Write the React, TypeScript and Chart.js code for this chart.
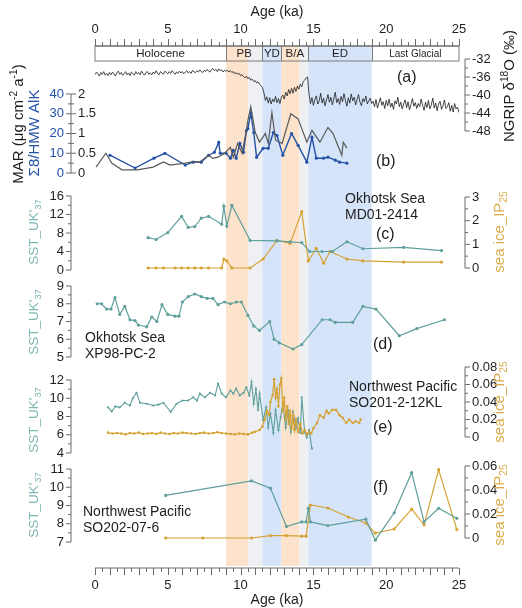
import React, { useEffect, useRef } from 'react';
import { Chart, registerables } from 'chart.js';

Chart.register(...registerables);

// ---------------- data ----------------
const AGE_TICKS = [0, 5, 10, 15, 20, 25];

// (a) NGRIP d18O, sampled every 0.1 ka from 0 ka
const NGRIP_STEP = 0.1;
const NGRIP_D18O = [
  -35.5, -34.9, -35.3, -35.8, -35.0, -35.4, -34.8, -35.6, -35.2, -35.7,
  -35.0, -35.5, -34.9, -35.3, -35.8, -35.1, -34.7, -35.4, -35.0, -35.6,
  -35.3, -34.8, -35.5, -35.1, -35.7, -34.9, -35.2, -35.6, -34.8, -35.3,
  -35.0, -35.5, -34.7, -35.2, -35.6, -35.0, -34.8, -35.4, -35.1, -35.5,
  -34.9, -35.3, -34.6, -35.2, -35.5, -34.8, -35.1, -35.4, -34.7, -35.0,
  -35.3, -34.8, -35.2, -34.6, -35.0, -35.4, -34.9, -35.2, -34.7, -35.1,
  -34.8, -35.3, -34.9, -34.6, -35.1, -34.8, -35.2, -34.5, -34.9, -35.0,
  -34.6, -34.9, -34.4, -34.8, -35.0, -34.5, -34.8, -34.3, -34.7, -34.9,
  -34.4, -34.1, -34.6, -34.3, -34.8, -34.2, -34.6, -34.4, -34.9, -34.5,
  -34.7,
  -34.5, -34.9, -34.6, -35.0, -34.8, -35.3, -35.0, -35.4, -35.2, -35.7,
  -35.5, -35.9, -36.2, -35.8, -36.4, -36.1, -36.7, -36.5, -37.0, -36.8,
  -37.3, -37.1, -37.6, -37.9, -38.3,
  -39.5, -41.2, -40.4, -41.8, -40.6, -42.0, -40.9, -41.5, -40.3, -41.7, -40.8, -41.9, -40.5,
  -40.0, -40.9, -39.4, -40.2, -38.8, -39.7, -38.5, -39.6, -38.3, -39.2, -38.0, -38.7, -37.6, -38.2, -37.0, -36.7, -36.2, -36.0,
  -39.8, -41.9, -40.6, -42.3, -41.0, -40.2, -42.0, -41.3, -39.6, -41.8,
  -40.7, -42.4, -41.1, -39.9, -41.6, -40.5, -42.2, -40.9, -39.4, -41.7,
  -40.8, -42.1, -40.3, -41.5, -39.7, -41.2, -42.5, -40.6, -41.8, -39.8,
  -41.3, -40.5, -42.2, -41.0, -39.9, -41.6, -42.4, -40.8, -41.5, -40.2,
  -42.0, -41.3, -40.7, -41.9,
  -41.4, -42.6, -41.0, -42.9, -41.7, -40.6, -42.3, -41.5, -43.0, -41.2,
  -42.4, -40.9, -42.7, -41.8, -43.2, -41.3, -42.0, -40.5, -42.6, -41.6,
  -43.1, -42.0, -41.1, -42.8, -41.5, -43.3, -42.1, -40.8, -42.5, -41.7,
  -43.0, -41.9, -42.6, -40.9, -42.3, -43.4, -41.6, -42.8, -41.2, -43.1,
  -42.2, -40.7, -42.9, -41.8, -43.5, -42.0, -41.4, -43.2, -42.4, -41.1,
  -43.0, -42.6, -41.7, -43.6, -42.3, -43.8, -41.9, -43.1, -42.7, -43.9,
];
const NGRIP_TICKS = [-32, -36, -40, -44, -48];

// (b) MAR / ratio
const B_BLUE_AGE = [1.03, 2.75, 4.05, 4.8, 6.2, 6.75, 7.3, 7.8, 8.2, 8.5, 8.6, 9.0, 9.3, 9.5, 9.7, 9.95, 10.2, 10.4, 10.5, 10.7, 10.9, 11.1, 11.55, 11.9, 12.25, 12.5, 12.9, 13.5, 13.95, 14.55, 14.9, 15.2, 15.7, 16.0, 16.5, 16.8, 17.3];
const B_BLUE = [9, 2.5, 7.5, 10, 4, 5.5, 5.5, 9, 10.5, 15.5, 10, 10, 7.5, 11.5, 7.5, 15, 10.5, 21.5, 22.5, 30.5, 20.5, 8, 12.5, 12.5, 20.5, 19, 9, 20, 14, 5.5, 18, 7.5, 7.5, 8, 6.5, 5.5, 5];
const B_GRAY_AGE = [0.07, 0.75, 1.15, 1.85, 2.9, 4.0, 4.7, 5.15, 6.2, 6.65, 7.2, 7.8, 8.1, 8.45, 8.9, 9.3, 9.5, 9.8, 10.1, 10.4, 10.5, 10.7, 11.0, 11.3, 11.7, 11.9, 12.15, 12.4, 12.85, 13.45, 13.95, 14.55, 14.9, 15.45, 16.0, 16.35, 16.95, 17.05, 17.3];
const B_GRAY = [0.15, 0.5, 0.25, 0.08, 0.08, 0.15, 0.28, 0.2, 0.25, 0.28, 0.28, 0.45, 0.37, 0.4, 0.5, 0.65, 0.4, 0.75, 0.5, 1.08, 1.33, 1.68, 1.03, 0.78, 1.0, 0.75, 1.53, 0.83, 0.75, 1.5, 1.37, 0.78, 1.08, 0.78, 1.15, 1.0, 0.45, 0.78, 0.63];
const B_BLUE_TICKS = [0, 10, 20, 30, 40];
const B_BLACK_TICKS = [0, 0.5, 1, 1.5, 2];

// (c) MD01-2414
const C_SST_AGE = [3.65, 4.2, 5.0, 5.95, 6.4, 6.85, 7.3, 7.8, 8.7, 8.85, 9.05, 9.4, 10.65, 12.5, 13.4, 14.2, 14.75, 15.6, 16.3, 17.3, 18.4, 21.2, 23.8];
const C_SST = [7.0, 6.6, 8.1, 11.6, 9.2, 9.4, 11.2, 11.6, 9.9, 13.8, 9.5, 14.0, 6.4, 6.3, 6.1, 5.9, 4.0, 4.0, 4.0, 6.1, 4.6, 4.9, 4.2];
const C_ICE_AGE = [3.65, 4.2, 4.7, 5.5, 5.95, 6.4, 6.85, 7.3, 7.8, 8.7, 8.85, 9.05, 9.4, 10.65, 11.55, 12.5, 13.4, 14.2, 14.65, 15.2, 15.7, 16.15, 17.3, 18.4, 21.2, 23.8];
const C_ICE = [0, 0, 0, 0, 0, 0, 0, 0, 0, 0, 0.38, 0.3, 0, 0, 0.38, 1.17, 1.04, 2.38, 0.3, 0.83, 0.2, 0.7, 0.38, 0.3, 0.25, 0.25];
const C_SST_TICKS = [0, 4, 8, 12, 16];
const C_ICE_TICKS = [0, 1, 2, 3];

// (d) XP98-PC-2
const D_AGE = [0.15, 0.45, 0.8, 1.1, 1.37, 1.7, 2.05, 2.4, 2.75, 2.98, 3.55, 3.9, 4.25, 4.6, 5.0, 5.5, 5.77, 6.0, 6.4, 6.85, 7.3, 7.7, 8.1, 8.45, 8.9, 9.3, 9.7, 10.05, 10.5, 10.9, 11.3, 12.0, 12.3, 12.65, 13.6, 14.2, 15.6, 16.15, 16.5, 17.7, 18.4, 19.3, 20.9, 22.1, 24.0];
const D_SST = [8.0, 8.0, 7.7, 7.7, 8.35, 7.4, 7.85, 7.1, 7.05, 6.8, 6.7, 7.25, 7.0, 7.95, 7.4, 7.3, 7.3, 8.1, 8.4, 8.55, 8.4, 8.3, 8.3, 7.95, 8.1, 8.0, 8.1, 8.1, 7.35, 6.75, 6.5, 7.0, 6.0, 5.8, 5.45, 5.7, 7.1, 7.1, 6.95, 6.95, 7.85, 7.7, 6.2, 6.6, 7.1];
const D_SST_TICKS = [5, 6, 7, 8, 9];

// (e) SO201-2-12KL
const E_SST_AGE = [0.9, 1.15, 1.4, 1.7, 2.05, 2.4, 2.6, 2.85, 3.1, 3.55, 4.0, 4.35, 4.7, 5.2, 5.6, 6.0, 6.4, 6.75, 7.0, 7.2, 7.55, 7.9, 8.25, 8.45, 8.7, 9.0, 9.3, 9.5, 9.7, 9.95, 10.2, 10.4, 10.6, 10.75, 10.9, 11.05, 11.2, 11.3, 11.55, 11.75, 11.9, 12.05, 12.25, 12.4, 12.6, 12.75, 12.9, 13.1, 13.25, 13.45, 13.6, 13.8, 13.95, 14.1, 14.2, 14.4, 14.55, 14.7, 14.9];
const E_SST = [9.0, 8.55, 9.1, 9.0, 9.5, 9.2, 10.0, 10.6, 9.5, 9.4, 9.2, 9.3, 9.5, 8.5, 9.4, 9.75, 9.75, 10.1, 9.75, 10.5, 10.1, 10.6, 10.3, 11.6, 10.5, 10.1, 10.85, 10.5, 11.05, 10.3, 10.6, 11.2, 10.3, 11.8, 9.4, 11.0, 8.7, 10.5, 7.6, 9.0, 6.8, 8.3, 6.2, 8.7, 6.5, 7.9, 9.4, 6.8, 8.7, 6.3, 8.5, 6.7, 7.8, 6.2, 10.1, 6.3, 5.7, 6.5, 4.5];
const E_ICE_AGE = [0.9, 1.2, 1.5, 1.8, 2.1, 2.4, 2.7, 3.0, 3.3, 3.6, 3.9, 4.2, 4.5, 4.8, 5.1, 5.4, 5.7, 6.0, 6.3, 6.6, 6.9, 7.2, 7.5, 7.8, 8.1, 8.4, 8.7, 9.0, 9.3, 9.6, 9.9, 10.2, 10.5, 10.8,
  11.0, 11.3, 11.5, 11.65, 11.8, 11.95, 12.05, 12.2, 12.3, 12.4, 12.5, 12.6, 12.7, 12.8, 12.9, 13.0, 13.1, 13.2, 13.3, 13.4, 13.5, 13.6, 13.7, 13.8, 13.95, 14.1, 14.25, 14.4, 14.55, 14.7, 14.85, 15.0, 15.25, 15.45, 15.7, 15.9, 16.05, 16.3, 16.55, 16.8, 17.0, 17.25, 17.45, 17.7, 17.9, 18.15, 18.25];
const E_ICE = [0.005, 0.004, 0.0045, 0.004, 0.003, 0.0045, 0.004, 0.005, 0.0035, 0.004, 0.0045, 0.0035, 0.005, 0.004, 0.0035, 0.0045, 0.004, 0.005, 0.0045, 0.004, 0.0035, 0.0045, 0.005, 0.004, 0.0045, 0.0055, 0.0045, 0.004, 0.0035, 0.003, 0.004, 0.0035, 0.003, 0.005,
  0.006, 0.008, 0.012, 0.02, 0.03, 0.025, 0.04, 0.048, 0.066, 0.045, 0.055, 0.035, 0.06, 0.067, 0.03, 0.045, 0.02, 0.035, 0.015, 0.03, 0.01, 0.025, 0.008, 0.02, 0.006, 0.015, 0.004, 0.008, 0.003, 0.006, 0.004, 0.01, 0.016, 0.025, 0.022, 0.03, 0.027, 0.031, 0.031, 0.025, 0.022, 0.016, 0.02, 0.016, 0.018, 0.016, 0.02];
const E_SST_TICKS = [4, 6, 8, 10, 12];
const E_ICE_TICKS = [0, 0.02, 0.04, 0.06, 0.08];

// (f) SO202-07-6
const F_SST_AGE = [4.85, 10.75, 12.05, 13.15, 14.2, 14.5, 14.65, 14.8, 16.0, 18.6, 19.25, 20.55, 21.75, 22.6, 23.6, 24.85];
const F_SST = [9.55, 10.35, 9.95, 7.85, 8.1, 8.1, 8.85, 8.1, 7.9, 8.25, 7.1, 8.6, 10.8, 8.1, 8.85, 8.3];
const F_ICE_AGE = [4.85, 7.4, 10.75, 12.05, 13.15, 14.2, 14.5, 14.8, 16.0, 17.4, 18.6, 19.25, 20.55, 21.75, 22.6, 23.6, 24.85];
const F_ICE = [0, 0, 0, 0.002, 0.002, 0.0015, 0.0015, 0.0275, 0.025, 0.0175, 0.0125, 0.004, 0.0075, 0.024, 0.011, 0.057, 0.007];
const F_SST_TICKS = [7, 8, 9, 10, 11];
const F_ICE_TICKS = [0, 0.02, 0.04, 0.06];

const EPOCH_LABELS = ['Holocene', 'PB', 'YD', 'B/A', 'ED', 'Last Glacial'];
const EPOCH_BOUNDS = [0, 9.0, 11.5, 12.8, 14.65, 19.0, 25];
const BAND_FROM = [9.0, 10.5, 11.5, 12.8, 14.05, 14.65];
const BAND_TO = [10.5, 11.5, 12.8, 14.05, 14.65, 19.0];
const BAND_KIND = ['o', 'g', 'b', 'o', 'g', 'b'];

// ---------------- styling / layout ----------------
const FONT = '"Liberation Sans", Arial, Helvetica, sans-serif';
const TEAL = '#5f9f9c';
const TEAL_TXT = '#7db6b2';
const GOLD = '#d5a233';
const GOLD_TXT = '#dbad4c';
const BLUE = '#2352a6';
const GRAYLINE = '#595959';
const AXIS = '#6b6b6b';
const TXT = '#1e1e1e';
const BAND_COL: Record<string, string> = { o: '#fde3cc', g: '#eef0f4', b: '#d6e4fa' };

const AREA = { left: 95, right: 459, top: 46, bottom: 566 };

function fit(vTop: number, pTop: number, vBot: number, pBot: number) {
  const b = (pTop - pBot) / (vTop - vBot);
  const a = pTop - b * vTop;
  return { min: (AREA.bottom - a) / b, max: (AREA.top - a) / b };
}

const zip = (xs: number[], ys: number[]) => xs.map((x, i) => ({ x, y: ys[i] }));

type Run = [string, 'n' | 'sub' | 'sup'];

function drawRich(ctx: CanvasRenderingContext2D, runs: Run[], x: number, y: number, size: number, color: string, rot: boolean, align: 'center' | 'left' = 'center') {
  ctx.save();
  ctx.translate(x, y);
  if (rot) ctx.rotate(-Math.PI / 2);
  ctx.fillStyle = color;
  ctx.textBaseline = 'middle';
  ctx.textAlign = 'left';
  const widths = runs.map(([t, k]) => {
    ctx.font = `${k === 'n' ? size : size * 0.68}px ${FONT}`;
    return ctx.measureText(t).width;
  });
  const total = widths.reduce((s, w) => s + w, 0);
  let cur = align === 'center' ? -total / 2 : 0;
  runs.forEach(([t, k], i) => {
    ctx.font = `${k === 'n' ? size : size * 0.68}px ${FONT}`;
    const dy = k === 'sub' ? size * 0.3 : k === 'sup' ? -size * 0.35 : 0;
    ctx.fillText(t, cur, dy);
    cur += widths[i];
  });
  ctx.restore();
}

function vAxis(ctx: CanvasRenderingContext2D, scale: any, ticks: number[], side: 'left' | 'right', x: number, fmt: (v: number) => string, color = TXT) {
  const ps = ticks.map((v) => scale.getPixelForValue(v));
  const top = Math.min(...ps), bot = Math.max(...ps);
  ctx.strokeStyle = AXIS;
  ctx.lineWidth = 1;
  ctx.beginPath();
  ctx.moveTo(x, top);
  ctx.lineTo(x, bot);
  const dir = side === 'left' ? -1 : 1;
  ps.forEach((p) => { ctx.moveTo(x, p); ctx.lineTo(x + dir * 5, p); });
  for (let i = 0; i < ps.length - 1; i++) {
    const m = (ps[i] + ps[i + 1]) / 2;
    ctx.moveTo(x, m); ctx.lineTo(x + dir * 3, m);
  }
  ctx.stroke();
  ctx.fillStyle = color;
  ctx.font = `13px ${FONT}`;
  ctx.textBaseline = 'middle';
  ctx.textAlign = side === 'left' ? 'right' : 'left';
  ticks.forEach((v, i) => ctx.fillText(fmt(v), x + dir * 7, ps[i]));
}

const overlay = {
  id: 'overlay',
  beforeDatasetsDraw(chart: any) {
    const { ctx, chartArea, scales } = chart;
    const xs = scales.x;
    ctx.save();
    BAND_FROM.forEach((f, i) => {
      const x0 = xs.getPixelForValue(f);
      const x1 = xs.getPixelForValue(BAND_TO[i]);
      ctx.fillStyle = BAND_COL[BAND_KIND[i]];
      ctx.fillRect(x0, chartArea.top, x1 - x0, chartArea.bottom - chartArea.top);
    });
    ctx.restore();
  },
  afterDatasetsDraw(chart: any) {
    const { ctx, chartArea, scales } = chart;
    const xs = scales.x;
    const L = chartArea.left, R = chartArea.right;
    ctx.save();

    // epoch box
    const boxTop = chartArea.top, boxBot = chartArea.top + 15;
    ctx.strokeStyle = '#7a7a7a';
    ctx.lineWidth = 1;
    ctx.strokeRect(L, boxTop, R - L, boxBot - boxTop);
    ctx.beginPath();
    EPOCH_BOUNDS.slice(1, -1).forEach((b) => {
      const px = Math.round(xs.getPixelForValue(b)) + 0.5;
      ctx.moveTo(px, boxTop); ctx.lineTo(px, boxBot);
    });
    ctx.stroke();
    ctx.fillStyle = TXT;
    ctx.textAlign = 'center';
    ctx.textBaseline = 'middle';
    EPOCH_LABELS.forEach((lab, i) => {
      ctx.font = `${lab === 'Last Glacial' ? 10 : 11.5}px ${FONT}`;
      const c = (xs.getPixelForValue(EPOCH_BOUNDS[i]) + xs.getPixelForValue(EPOCH_BOUNDS[i + 1])) / 2;
      ctx.fillText(lab, c, (boxTop + boxBot) / 2 + 0.5);
    });

    // top and bottom age axes
    const drawAgeAxis = (y: number, dir: number, labelY: number, titleY: number) => {
      ctx.strokeStyle = AXIS;
      ctx.lineWidth = 1;
      ctx.beginPath();
      ctx.moveTo(L, y); ctx.lineTo(R, y);
      for (let i = 0; i <= 50; i++) {
        const v = i * 0.5;
        const px = Math.round(xs.getPixelForValue(v)) + 0.5;
        const len = i % 2 === 0 ? 7 : 4;
        ctx.moveTo(px, y); ctx.lineTo(px, y + dir * len);
      }
      ctx.stroke();
      ctx.fillStyle = TXT;
      ctx.font = `13px ${FONT}`;
      ctx.textAlign = 'center';
      ctx.textBaseline = 'middle';
      AGE_TICKS.forEach((t) => ctx.fillText(String(t), xs.getPixelForValue(t), labelY));
      ctx.font = `14px ${FONT}`;
      ctx.fillText('Age (ka)', (L + R) / 2, titleY);
    };
    drawAgeAxis(chartArea.top, -1, 29, 12);
    drawAgeAxis(chartArea.bottom + 2, 1, 585, 600);

    // (a) NGRIP right axis
    vAxis(ctx, scales.yA, NGRIP_TICKS, 'right', 465, (v) => String(v));
    drawRich(ctx, [['NGRIP δ', 'n'], ['18', 'sup'], ['O (‰)', 'n']], 510, 86, 15, TXT, true);

    // (b) shared left axis
    const bs = scales.yB;
    const bp = B_BLUE_TICKS.map((v) => bs.getPixelForValue(v));
    ctx.strokeStyle = AXIS;
    ctx.beginPath();
    ctx.moveTo(71, Math.min(...bp)); ctx.lineTo(71, Math.max(...bp));
    bp.forEach((p) => { ctx.moveTo(66, p); ctx.lineTo(76, p); });
    for (let i = 0; i < bp.length - 1; i++) {
      const m = (bp[i] + bp[i + 1]) / 2;
      ctx.moveTo(68, m); ctx.lineTo(74, m);
    }
    ctx.stroke();
    ctx.font = `13px ${FONT}`;
    ctx.textBaseline = 'middle';
    ctx.textAlign = 'right';
    ctx.fillStyle = BLUE;
    B_BLUE_TICKS.forEach((v, i) => ctx.fillText(String(v), 64, bp[i]));
    ctx.textAlign = 'left';
    ctx.fillStyle = TXT;
    B_BLACK_TICKS.forEach((v) => ctx.fillText(String(v), 78, scales.yB2.getPixelForValue(v)));
    drawRich(ctx, [['MAR (μg cm', 'n'], ['-2', 'sup'], [' a', 'n'], ['-1', 'sup'], [')', 'n']], 19, 124, 15, TXT, true);
    drawRich(ctx, [['Σ8/HMW AlK', 'n']], 35, 133, 15, BLUE, true);

    // (c)-(f) axes
    const sstTitle: Run[] = [["SST_UK'", 'n'], ['37', 'sub']];
    const iceTitle: Run[] = [['sea ice_IP', 'n'], ['25', 'sub']];
    vAxis(ctx, scales.yC, C_SST_TICKS, 'left', 71, (v) => String(v));
    vAxis(ctx, scales.yCi, C_ICE_TICKS, 'right', 465, (v) => String(v));
    drawRich(ctx, sstTitle, 34, 232, 13.5, TEAL_TXT, true);
    drawRich(ctx, iceTitle, 500, 232, 15, GOLD_TXT, true);

    vAxis(ctx, scales.yD, D_SST_TICKS, 'left', 71, (v) => String(v));
    drawRich(ctx, sstTitle, 34, 322, 13.5, TEAL_TXT, true);

    vAxis(ctx, scales.yE, E_SST_TICKS, 'left', 71, (v) => String(v));
    vAxis(ctx, scales.yEi, E_ICE_TICKS, 'right', 465, (v) => (v === 0 ? '0' : v.toFixed(2)));
    drawRich(ctx, sstTitle, 34, 420, 13.5, TEAL_TXT, true);
    drawRich(ctx, iceTitle, 500, 402, 15, GOLD_TXT, true);

    vAxis(ctx, scales.yF, F_SST_TICKS, 'left', 71, (v) => String(v));
    vAxis(ctx, scales.yFi, F_ICE_TICKS, 'right', 465, (v) => (v === 0 ? '0' : v.toFixed(2)));
    drawRich(ctx, sstTitle, 34, 505, 13.5, TEAL_TXT, true);
    drawRich(ctx, iceTitle, 500, 505, 15, GOLD_TXT, true);

    // panel letters and site names
    ctx.fillStyle = TXT;
    ctx.textAlign = 'left';
    ctx.textBaseline = 'middle';
    ctx.font = `16px ${FONT}`;
    ctx.fillText('(a)', 397, 78);
    ctx.fillText('(b)', 376, 162);
    ctx.fillText('(c)', 376, 235);
    ctx.fillText('(d)', 373, 345);
    ctx.fillText('(e)', 373, 428);
    ctx.fillText('(f)', 373, 488);
    ctx.font = `14px ${FONT}`;
    ctx.fillText('Okhotsk Sea', 345, 199);
    ctx.fillText('MD01-2414', 345, 215);
    ctx.fillText('Okhotsk Sea', 85, 338);
    ctx.fillText('XP98-PC-2', 85, 354);
    ctx.fillText('Northwest Pacific', 349, 387);
    ctx.fillText('SO201-2-12KL', 349, 403);
    ctx.fillText('Northwest Pacific', 83, 512);
    ctx.fillText('SO202-07-6', 83, 528);

    ctx.restore();
  },
};

export default function App() {
  const ref = useRef<HTMLCanvasElement | null>(null);
  useEffect(() => {
    if (!ref.current) return;
    const line = (data: any[], color: string, yAxisID: string, width: number, radius: number) => ({
      data, yAxisID, borderColor: color, backgroundColor: color, borderWidth: width,
      pointRadius: radius, pointBorderWidth: 0, pointBackgroundColor: color, tension: 0, fill: false,
    });
    const chart = new Chart(ref.current, {
      type: 'line',
      data: {
        datasets: [
          line(NGRIP_D18O.map((v, i) => ({ x: i * NGRIP_STEP, y: v })), '#1a1a1a', 'yA', 0.8, 0),
          line(zip(B_GRAY_AGE, B_GRAY), GRAYLINE, 'yB2', 1.2, 0),
          line(zip(B_BLUE_AGE, B_BLUE), BLUE, 'yB', 1.4, 1.6),
          line(zip(C_SST_AGE, C_SST), TEAL, 'yC', 1.2, 1.6),
          line(zip(C_ICE_AGE, C_ICE), GOLD, 'yCi', 1.2, 1.6),
          line(zip(D_AGE, D_SST), TEAL, 'yD', 1.2, 1.6),
          line(zip(E_ICE_AGE, E_ICE), GOLD, 'yEi', 1.2, 1.3),
          line(zip(E_SST_AGE, E_SST), TEAL, 'yE', 1.1, 1.1),
          line(zip(F_SST_AGE, F_SST), TEAL, 'yF', 1.2, 1.6),
          line(zip(F_ICE_AGE, F_ICE), GOLD, 'yFi', 1.2, 1.6),
        ],
      },
      options: {
        responsive: false,
        animation: false,
        parsing: true,
        layout: { padding: { left: AREA.left, right: 522 - AREA.right, top: AREA.top, bottom: 608 - AREA.bottom } },
        plugins: { legend: { display: false }, tooltip: { enabled: false }, title: { display: false } },
        scales: {
          x: { type: 'linear', min: 0, max: 25, display: false },
          yA: { type: 'linear', display: false, ...fit(-32, 59, -48, 131) },
          yB: { type: 'linear', display: false, ...fit(40, 94, 0, 173) },
          yB2: { type: 'linear', display: false, ...fit(2, 94, 0, 173) },
          yC: { type: 'linear', display: false, ...fit(16, 196, 0, 270) },
          yCi: { type: 'linear', display: false, ...fit(3, 197, 0, 268) },
          yD: { type: 'linear', display: false, ...fit(9, 286, 5, 357) },
          yE: { type: 'linear', display: false, ...fit(12, 380, 4, 453) },
          yEi: { type: 'linear', display: false, ...fit(0.08, 367, 0, 437) },
          yF: { type: 'linear', display: false, ...fit(11, 469, 7, 542) },
          yFi: { type: 'linear', display: false, ...fit(0.06, 466, 0, 538) },
        },
      } as any,
      plugins: [overlay],
    });
    return () => chart.destroy();
  }, []);
  return (
    <div style={{ position: 'fixed', left: 0, top: 0, width: 522, height: 608, background: '#fff' }}>
      <canvas ref={ref} width={522} height={608} style={{ width: 522, height: 608, display: 'block' }} />
    </div>
  );
}
